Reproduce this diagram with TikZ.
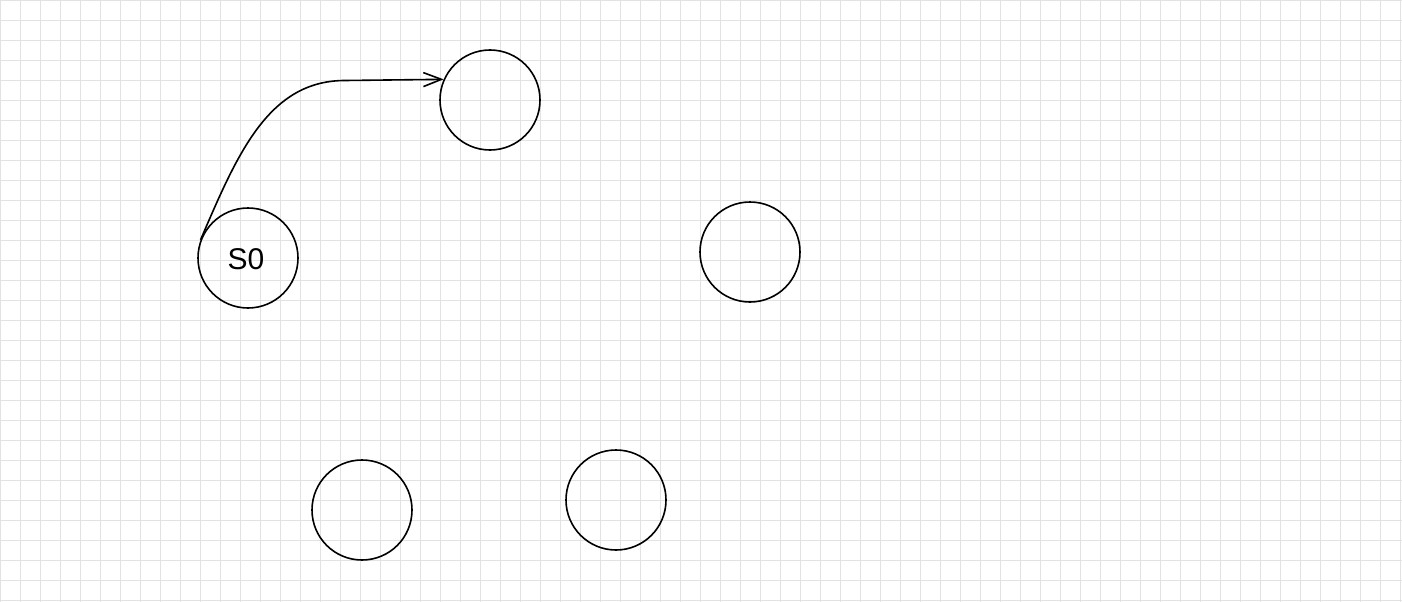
\documentclass[tikz,border=0pt]{standalone}
\usepackage{fontspec}
\setmainfont{Liberation Sans}
\usetikzlibrary{arrows.meta}
\definecolor{gridc}{RGB}{226,226,226}
\tikzset{
  state/.style={circle, draw=black, line width=1.6pt, minimum size=100pt, inner sep=0pt},
  statelabel/.style={inner sep=0pt, font=\fontsize{30}{34}\selectfont},
  gridline/.style={draw=gridc, line width=1pt},
  edge/.style={draw=black, line width=1.6pt, -{Straight Barb[length=18pt,width=14pt]}}
}
\begin{document}
\begin{tikzpicture}[x=1pt,y=-1pt]
\useasboundingbox (0,0) rectangle (1402,602);
\fill[white] (0,0) rectangle (1402,602);
\foreach \gx in {0,20,...,1400} { \draw[gridline] (\gx+0.5,0) -- (\gx+0.5,602); }
\foreach \gy in {0,20,...,600} { \draw[gridline] (0,\gy+0.5) -- (1402,\gy+0.5); }
\node[state] (s0) at (248,258) {};
\node[statelabel] (s0t) at (246,259) {S0};
\node[state] (n1) at (490,100) {};
\node[state] (n2) at (750,252) {};
\node[state] (n3) at (362,510) {};
\node[state] (n4) at (616,500) {};
\coordinate (bend) at (345,80.5);
\draw[edge] (s0.159) .. controls (237,155) and (268,80.5) .. (bend) -- (n1.156);
\end{tikzpicture}
\end{document}
